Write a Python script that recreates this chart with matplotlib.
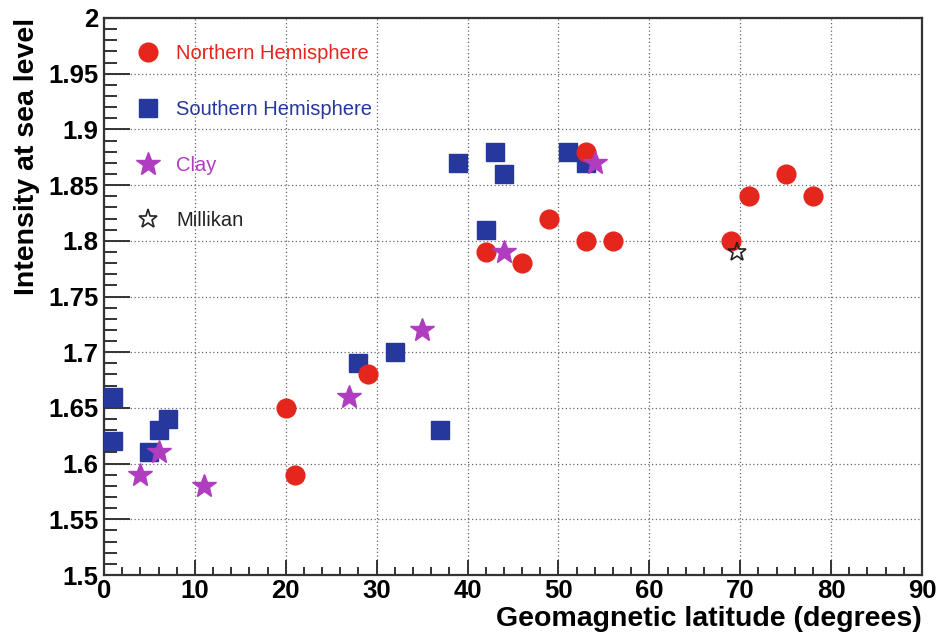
#!/usr/bin/env python3
"""
sea level intensity of cosmic rays vs geomagnetic latitude
ROOT-like styling: inner ticks, dotted grid, frameless legend
"""

import matplotlib.pyplot as plt
from matplotlib.ticker import FuncFormatter, MultipleLocator

plt.rcParams["font.family"] = ["Liberation Sans", "DejaVu Sans"]

# Northern Hemisphere
north_lat = [20, 21, 29, 42, 46, 49, 53, 53, 56, 69, 71, 75, 78]
north_int = [1.65, 1.59, 1.68, 1.79, 1.78, 1.82, 1.88, 1.80, 1.80, 1.80, 1.84, 1.86, 1.84]

# Southern Hemisphere
south_lat = [1, 1, 5, 6, 7, 28, 32, 37, 39, 42, 43, 44, 51, 53]
south_int = [1.66, 1.62, 1.61, 1.63, 1.64, 1.69, 1.70, 1.63, 1.87, 1.81, 1.88, 1.86, 1.88, 1.87]

# Clay
clay_lat = [4, 6, 11, 27, 35, 44, 54]
clay_int = [1.59, 1.61, 1.58, 1.66, 1.72, 1.79, 1.87]

# Millikan
millikan_lat = [69.6]
millikan_int = [1.79]

c_red = "#e4261c"
c_blue = "#26379e"
c_mag = "#b03cc0"

fig = plt.figure(figsize=(9.42, 6.38), dpi=100)
ax = fig.add_axes([0.1104, 0.0987, 0.8684, 0.8731])

ax.plot(south_lat, south_int, ls="none", marker="s", ms=13.5, color=c_blue,
        mec=c_blue, label="Southern Hemisphere", zorder=3)
ax.plot(north_lat, north_int, ls="none", marker="o", ms=13.5, color=c_red,
        mec=c_red, label="Northern Hemisphere", zorder=4)
ax.plot(clay_lat, clay_int, ls="none", marker="*", ms=18, color=c_mag,
        mec=c_mag, label="Clay", zorder=5)
ax.plot(millikan_lat, millikan_int, ls="none", marker="*", ms=14, mfc="none",
        mec="#222222", mew=1.2, label="Millikan", zorder=6)

ax.set_xlim(0, 90)
ax.set_ylim(1.5, 2.0)

ax.xaxis.set_major_locator(MultipleLocator(10))
ax.xaxis.set_minor_locator(MultipleLocator(2))
ax.yaxis.set_major_locator(MultipleLocator(0.05))
ax.yaxis.set_minor_locator(MultipleLocator(0.01))
ax.yaxis.set_major_formatter(FuncFormatter(lambda v, p: "%g" % round(v, 2)))

# ticks inside, longer on the y axis (like ROOT)
ax.tick_params(axis="both", which="both", direction="in", width=1.4,
               color="#333333", labelsize=18.5)
ax.tick_params(axis="y", which="major", length=19, pad=4)
ax.tick_params(axis="y", which="minor", length=9.5)
ax.tick_params(axis="x", which="major", length=11, pad=3)
ax.tick_params(axis="x", which="minor", length=6)
for lbl in ax.get_xticklabels() + ax.get_yticklabels():
    lbl.set_fontweight("bold")

for sp in ax.spines.values():
    sp.set_linewidth(1.6)
    sp.set_color("#333333")

ax.grid(which="major", color="#666666", linestyle=(0, (1, 2)), linewidth=0.9,
        zorder=0)
ax.set_axisbelow(True)

ax.set_xlabel("Geomagnetic latitude (degrees)", fontsize=20.5,
              fontweight="bold", ha="right", x=1.0, labelpad=2)
ax.set_ylabel("Intensity at sea level", fontsize=20.5, fontweight="bold",
              ha="right", y=1.0, labelpad=6)

# legend, order as in the reference
handles, labels = ax.get_legend_handles_labels()
order = [1, 0, 2, 3]
leg = ax.legend([handles[i] for i in order], [labels[i] for i in order],
                loc="upper left", bbox_to_anchor=(0.019, 0.985), frameon=False,
                fontsize=14.5, labelspacing=1.82, handletextpad=0.9,
                handlelength=1.0, numpoints=1)
for txt, col in zip(leg.get_texts(), [c_red, c_blue, c_mag, "#222222"]):
    txt.set_color(col)

fig.savefig("out.png", dpi=100)
